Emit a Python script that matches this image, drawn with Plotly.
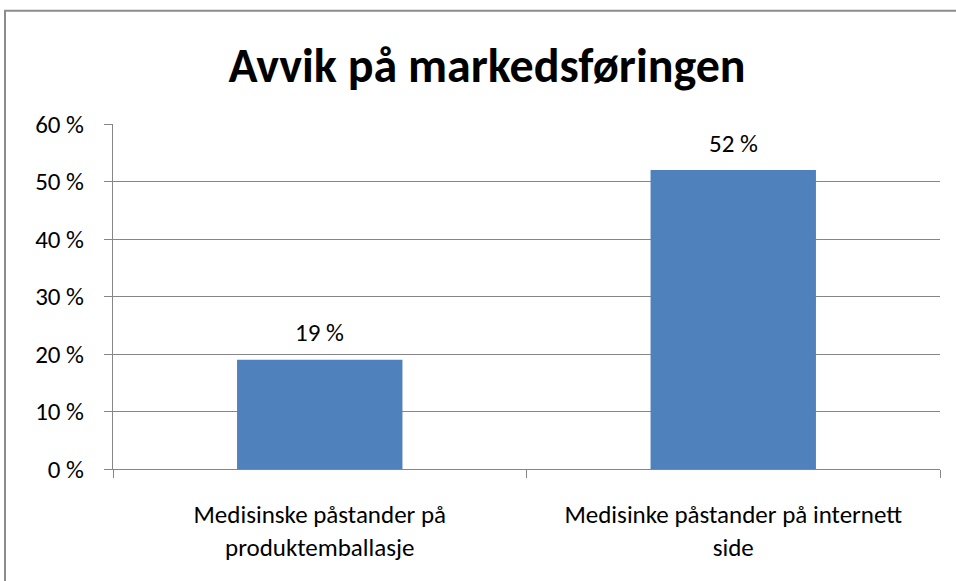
import plotly.graph_objects as go

categories = ["Medisinske påstander på<br>produktemballasje", "Medisinke påstander på internett<br>side"]
values = [19, 52]
labels = ["19 %", "52 %"]
title_text = "Avvik på markedsføringen"

W, H = 956, 581
L, R, T, B = 113, 16, 123.5, 112
pw = W - L - R
ph = H - T - B

FONT = "Carlito, 'Liberation Sans Narrow', Lato, sans-serif"

fig = go.Figure()
fig.add_trace(go.Bar(
    x=categories, y=values,
    marker=dict(color="#4F81BD", line=dict(width=0)),
    hoverinfo="skip",
))

for c, v, t in zip(categories, values, labels):
    fig.add_annotation(x=c, y=v, text=t, showarrow=False, xref="x", yref="y",
                       yanchor="middle", yshift=27,
                       font=dict(size=25, color="#000000", family=FONT))

def px2paper_x(px):
    return (px - L) / pw

def px2paper_y(py):
    return (H - B - py) / ph

fig.update_layout(
    width=W, height=H,
    margin=dict(l=L, r=R, t=T, b=B, pad=0),
    paper_bgcolor="white", plot_bgcolor="white",
    bargap=0.6,
    showlegend=False,
    title=dict(text="<b>" + title_text + "</b>", x=487 / W, xanchor="center",
               y=1 - 65 / H, yanchor="middle",
               font=dict(size=48, color="#000000", family=FONT)),
    font=dict(family=FONT, size=25, color="#000000"),
    shapes=[dict(type="rect", xref="paper", yref="paper",
                 x0=px2paper_x(5), x1=px2paper_x(1000),
                 y0=px2paper_y(700), y1=px2paper_y(10),
                 line=dict(color="#8C8C8C", width=2), fillcolor="rgba(0,0,0,0)", layer="below")],
)
fig.update_yaxes(range=[0, 60], dtick=10, ticksuffix=" %", showgrid=True,
                 gridcolor="#868686", gridwidth=1, showline=True, linecolor="#868686",
                 ticks="outside", ticklen=8, tickcolor="#868686",
                 tickfont=dict(size=25, color="#000000"), ticklabelstandoff=15,
                 zeroline=False, fixedrange=True)
fig.update_xaxes(showline=True, linecolor="#868686", ticks="outside", ticklen=8,
                 tickcolor="#868686", tickson="boundaries",
                 tickfont=dict(size=25, color="#000000"), ticklabelstandoff=23,
                 showgrid=False, fixedrange=True)

fig.write_html("out.html", config={"displayModeBar": False},
               post_script="document.body.style.margin='0';")
